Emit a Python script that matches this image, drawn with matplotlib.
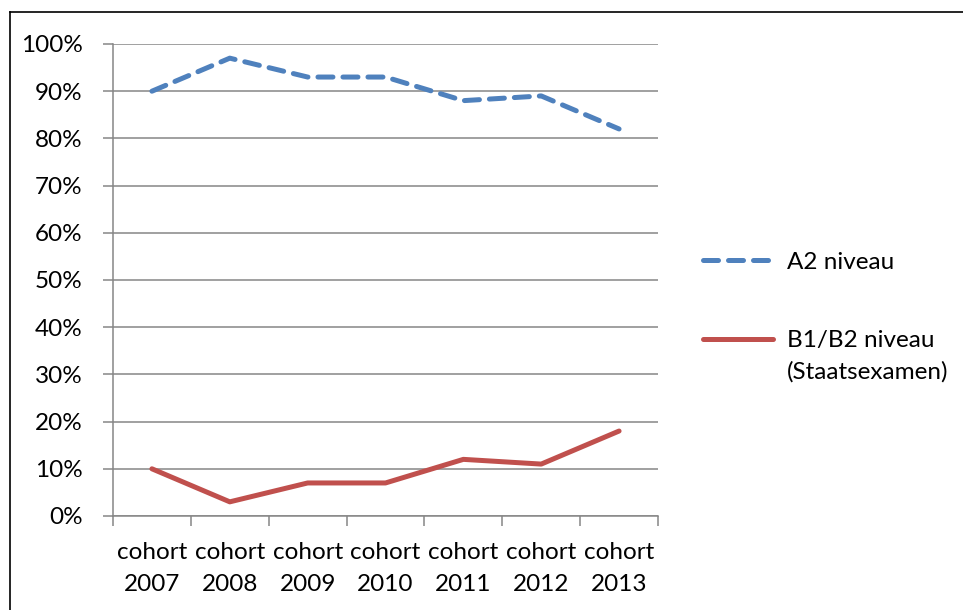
import matplotlib
matplotlib.use("Agg")
import matplotlib.pyplot as plt
from matplotlib.lines import Line2D
from matplotlib.ticker import FixedLocator, FuncFormatter

categories = ["cohort\n2007", "cohort\n2008", "cohort\n2009", "cohort\n2010",
              "cohort\n2011", "cohort\n2012", "cohort\n2013"]
a2_values = [90, 97, 93, 93, 88, 89, 82]
b1b2_values = [10, 3, 7, 7, 12, 11, 18]
series_labels = ["A2 niveau", "B1/B2 niveau"]
series_label_extra = "(Staatsexamen)"
y_ticks = list(range(0, 101, 10))

plt.rcParams['font.family'] = ['Lato', 'DejaVu Sans']
fs = 17.5

fig = plt.figure(figsize=(9.63, 6.10), dpi=100)
ax = fig.add_axes([113/963, 1-516/610, (658-113)/963, (516-44)/610])

x = list(range(len(categories)))
grid_c = '#868686'

ax.plot(x, a2_values, color='#4F81BD', lw=3.6, dashes=(3, 2.0),
        dash_capstyle='round', solid_capstyle='round', label=series_labels[0], zorder=3)
ax.plot(x, b1b2_values, color='#C0504D', lw=3.6, solid_capstyle='round',
        solid_joinstyle='round', label=series_labels[1], zorder=3)

ax.set_xlim(-0.5, len(categories) - 0.5)
ax.set_ylim(0, 100)
ax.yaxis.set_major_locator(FixedLocator(y_ticks))
ax.yaxis.set_major_formatter(FuncFormatter(lambda v, p: f"{int(v)}%"))
ax.grid(axis='y', color=grid_c, lw=1.1)
ax.set_axisbelow(True)

ax.xaxis.set_major_locator(FixedLocator([i - 0.5 for i in range(len(categories) + 1)]))
ax.xaxis.set_major_formatter(FuncFormatter(lambda v, p: ""))
ax.xaxis.set_minor_locator(FixedLocator(x))
ax.set_xticklabels(categories, minor=True)
ax.tick_params(axis='x', which='major', length=7, width=1.1, color=grid_c, direction='out')
ax.tick_params(axis='x', which='minor', length=0, pad=19, labelsize=fs)
ax.tick_params(axis='y', which='major', length=7, width=1.1, color=grid_c, labelsize=fs, pad=15)
for lbl in ax.get_xticklabels(minor=True):
    lbl.set_linespacing(1.6)

for s in ['top', 'right']:
    ax.spines[s].set_visible(False)
for s in ['left', 'bottom']:
    ax.spines[s].set_color(grid_c)
    ax.spines[s].set_linewidth(1.1)

leg = fig.legend(loc='upper left', bbox_to_anchor=(681/963, 1-230/610), frameon=False,
                 fontsize=fs, handlelength=2.9, handletextpad=0.55, labelspacing=2.35)

fig.canvas.draw()
r = fig.canvas.get_renderer()
tb = leg.get_texts()[1].get_window_extent(r)
fig.text(tb.x0 / fig.bbox.width, (tb.y0 - 32) / fig.bbox.height, series_label_extra,
         fontsize=fs, ha='left', va='bottom')

# outer chart border (left and top edges visible)
fig.add_artist(Line2D([9.5/963, 9.5/963], [0, 1-12/610], transform=fig.transFigure,
                      color='black', lw=1.2))
fig.add_artist(Line2D([9.5/963, 1], [1-12/610, 1-12/610], transform=fig.transFigure,
                      color='black', lw=1.2))

fig.savefig("out.png", dpi=100)
